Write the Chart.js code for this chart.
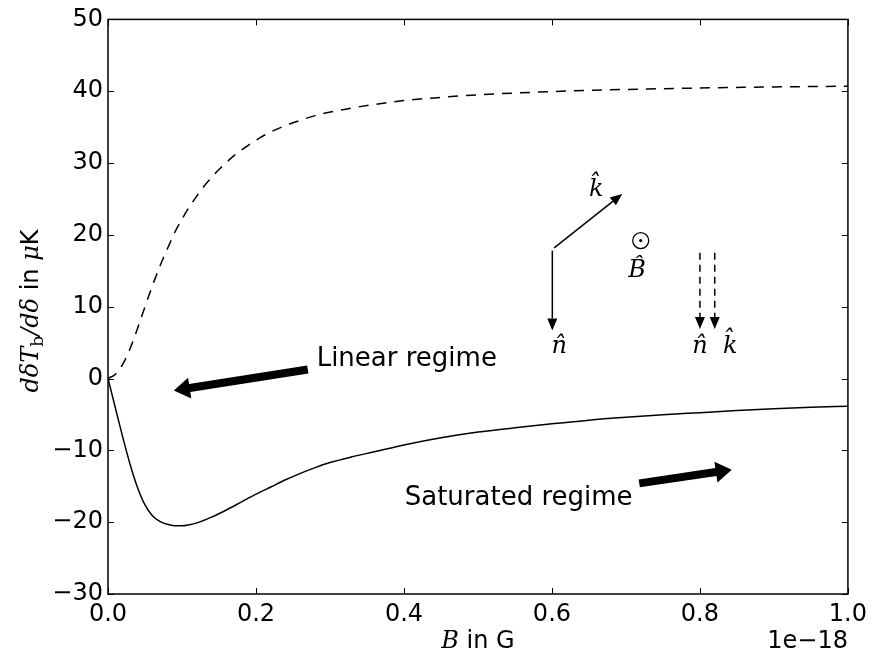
<!DOCTYPE html>
<html>
<head>
<meta charset="utf-8">
<script src="https://cdn.jsdelivr.net/npm/chart.js@4/dist/chart.umd.min.js"></script>
<style>
  html, body { margin: 0; padding: 0; background: #fff; }
  #wrap { width: 873px; height: 658px; }
</style>
</head>
<body>
<div id="wrap"><canvas id="c" width="873" height="658"></canvas></div>
<script>
// Magnetic field B, in units of 1e-18 G
const upperB = [0, 0.01, 0.02, 0.03, 0.04, 0.05, 0.06, 0.07, 0.08, 0.09, 0.10, 0.11, 0.12, 0.13, 0.14, 0.15, 0.17, 0.19, 0.21, 0.23, 0.25, 0.28, 0.31, 0.35, 0.40, 0.45, 0.50, 0.6, 0.7, 0.8, 0.9, 1.0];
// Dashed curve, d(dT_b)/d(delta) in microkelvin
const upperT = [0, 0.6, 2.0, 4.2, 7.0, 10.0, 12.9, 15.6, 18.0, 20.3, 22.2, 23.9, 25.4, 26.8, 28.0, 29.1, 31.0, 32.5, 33.8, 34.8, 35.6, 36.6, 37.3, 38.0, 38.7, 39.15, 39.5, 39.95, 40.25, 40.45, 40.6, 40.7];

const lowerB = [0, 0.01, 0.02, 0.03, 0.04, 0.05, 0.06, 0.07, 0.08, 0.09, 0.10, 0.11, 0.12, 0.14, 0.16, 0.18, 0.20, 0.22, 0.24, 0.26, 0.28, 0.30, 0.33, 0.36, 0.40, 0.45, 0.50, 0.55, 0.60, 0.65, 0.70, 0.75, 0.80, 0.85, 0.90, 0.95, 1.0];
// Solid curve, d(dT_b)/d(delta) in microkelvin
const lowerT = [0, -4.1, -8.2, -12.0, -15.2, -17.6, -19.1, -19.9, -20.3, -20.5, -20.5, -20.35, -20.1, -19.3, -18.3, -17.2, -16.1, -15.1, -14.1, -13.2, -12.4, -11.7, -10.9, -10.2, -9.25, -8.25, -7.45, -6.85, -6.3, -5.8, -5.4, -5.05, -4.75, -4.45, -4.2, -4.0, -3.85];

const xTicks = [0, 0.2, 0.4, 0.6, 0.8, 1.0];
const yTicks = [-30, -20, -10, 0, 10, 20, 30, 40, 50];
const xOffsetText = '1e\u221218';

// Text annotations with their arrows (data coordinates)
const regimeNotes = [
  { text: 'Linear regime', at: [0.282, 1.7], from: [0.27, 1.25], to: [0.089, -1.67] },
  { text: 'Saturated regime', at: [0.401, -17.6], from: [0.718, -14.6], to: [0.843, -12.7] }
];

// Geometry sketch: unit vectors n, k and B (data coordinates)
const sketchArrows = [
  { from: [0.6005, 17.8], to: [0.6005, 6.7], dashed: false },
  { from: [0.603, 18.2], to: [0.695, 25.7], dashed: false },
  { from: [0.80, 17.5], to: [0.80, 6.9], dashed: true },
  { from: [0.82, 17.5], to: [0.82, 6.9], dashed: true }
];
const sketchLabels = [
  { text: 'k\u0302', at: [0.66, 25.4] },
  { text: 'n\u0302', at: [0.61, 3.6] },
  { text: 'B\u0302', at: [0.715, 14.1] },
  { text: 'n\u0302', at: [0.80, 3.6] },
  { text: 'k\u0302', at: [0.841, 3.6] }
];
const dotSymbol = [0.72, 19.2];

const SANS = '"DejaVu Sans", sans-serif';
const SERIF = '"DejaVu Serif", serif';

function pts(xs, ys) { return xs.map((x, i) => ({ x: x, y: ys[i] })); }

function fmtY(v) { return v < 0 ? '\u2212' + Math.abs(v) : String(v); }

function fatArrow(ctx, x1, y1, x2, y2, bodyW, headL, headW) {
  const dx = x2 - x1, dy = y2 - y1;
  const len = Math.hypot(dx, dy);
  const ux = dx / len, uy = dy / len, nx = -uy, ny = ux;
  const bx = x2 - ux * headL, by = y2 - uy * headL;
  ctx.beginPath();
  ctx.moveTo(x1 + nx * bodyW / 2, y1 + ny * bodyW / 2);
  ctx.lineTo(bx + nx * bodyW / 2, by + ny * bodyW / 2);
  ctx.lineTo(bx + nx * headW / 2, by + ny * headW / 2);
  ctx.lineTo(x2, y2);
  ctx.lineTo(bx - nx * headW / 2, by - ny * headW / 2);
  ctx.lineTo(bx - nx * bodyW / 2, by - ny * bodyW / 2);
  ctx.lineTo(x1 - nx * bodyW / 2, y1 - ny * bodyW / 2);
  ctx.closePath();
  ctx.fill();
}

function thinArrow(ctx, x1, y1, x2, y2, dashed) {
  const dx = x2 - x1, dy = y2 - y1;
  const len = Math.hypot(dx, dy);
  const ux = dx / len, uy = dy / len, nx = -uy, ny = ux;
  const headL = 12, headW = 10;
  const bx = x2 - ux * headL, by = y2 - uy * headL;
  ctx.save();
  ctx.lineWidth = 1.5;
  ctx.setLineDash(dashed ? [7, 5] : []);
  ctx.beginPath();
  ctx.moveTo(x1, y1);
  ctx.lineTo(bx, by);
  ctx.stroke();
  ctx.restore();
  ctx.beginPath();
  ctx.moveTo(x2, y2);
  ctx.lineTo(bx + nx * headW / 2, by + ny * headW / 2);
  ctx.lineTo(bx - nx * headW / 2, by - ny * headW / 2);
  ctx.closePath();
  ctx.fill();
}

const framePlugin = {
  id: 'frameAndNotes',
  afterDatasetsDraw(chart) {
    const ctx = chart.ctx;
    const a = chart.chartArea;
    const xs = chart.scales.x, ys = chart.scales.y;
    const px = v => xs.getPixelForValue(v);
    const py = v => ys.getPixelForValue(v);
    ctx.save();
    ctx.strokeStyle = '#000';
    ctx.fillStyle = '#000';

    // axes box
    ctx.lineWidth = 1.5;
    ctx.strokeRect(a.left, a.top, a.right - a.left, a.bottom - a.top);

    // inward tick marks on all four sides
    ctx.lineWidth = 1;
    const tl = 6;
    ctx.beginPath();
    xTicks.forEach(v => {
      const x = Math.round(px(v)) + 0.5;
      ctx.moveTo(x, a.bottom); ctx.lineTo(x, a.bottom - tl);
      ctx.moveTo(x, a.top); ctx.lineTo(x, a.top + tl);
    });
    yTicks.forEach(v => {
      const y = Math.round(py(v)) + 0.5;
      ctx.moveTo(a.left, y); ctx.lineTo(a.left + tl, y);
      ctx.moveTo(a.right, y); ctx.lineTo(a.right - tl, y);
    });
    ctx.stroke();

    // regime notes
    ctx.font = '26px ' + SANS;
    ctx.textBaseline = 'alphabetic';
    ctx.textAlign = 'left';
    regimeNotes.forEach(n => {
      ctx.fillText(n.text, px(n.at[0]), py(n.at[1]));
      fatArrow(ctx, px(n.from[0]), py(n.from[1]), px(n.to[0]), py(n.to[1]), 8, 16, 21);
    });

    // geometry sketch
    sketchArrows.forEach(s => thinArrow(ctx, px(s.from[0]), py(s.from[1]), px(s.to[0]), py(s.to[1]), s.dashed));
    ctx.font = 'italic 24px ' + SERIF;
    ctx.textAlign = 'center';
    sketchLabels.forEach(l => ctx.fillText(l.text, px(l.at[0]), py(l.at[1])));
    const cx = px(dotSymbol[0]), cy = py(dotSymbol[1]);
    ctx.lineWidth = 1.3;
    ctx.beginPath(); ctx.arc(cx, cy, 8, 0, Math.PI * 2); ctx.stroke();
    ctx.beginPath(); ctx.arc(cx, cy, 1.6, 0, Math.PI * 2); ctx.fill();

    // x-axis title and offset text
    const mid = (a.left + a.right) / 2;
    const tb = 648;
    ctx.textAlign = 'left';
    ctx.font = 'italic 24px ' + SERIF;
    const wB = ctx.measureText('B').width;
    ctx.font = '24px ' + SANS;
    const wRest = ctx.measureText(' in G').width;
    let x0 = mid - (wB + wRest) / 2;
    ctx.font = 'italic 24px ' + SERIF;
    ctx.fillText('B', x0, tb);
    ctx.font = '24px ' + SANS;
    ctx.fillText(' in G', x0 + wB, tb);
    ctx.textAlign = 'right';
    ctx.fillText(xOffsetText, a.right, tb);

    // y-axis title, rotated
    const parts = [
      { t: 'd\u03b4T', f: 'italic 24px ' + SERIF, dy: 0 },
      { t: 'b', f: '17px ' + SERIF, dy: 5 },
      { t: '/d\u03b4', f: 'italic 24px ' + SERIF, dy: 0 },
      { t: ' in ', f: '24px ' + SANS, dy: 0 },
      { t: '\u03bc', f: 'italic 24px ' + SERIF, dy: 0 },
      { t: 'K', f: '24px ' + SANS, dy: 0 }
    ];
    let total = 0;
    parts.forEach(p => { ctx.font = p.f; p.w = ctx.measureText(p.t).width; total += p.w; });
    ctx.translate(38, 311);
    ctx.rotate(-Math.PI / 2);
    ctx.textAlign = 'left';
    let cur = -total / 2;
    parts.forEach(p => { ctx.font = p.f; ctx.fillText(p.t, cur, p.dy); cur += p.w; });
    ctx.restore();
  }
};

new Chart(document.getElementById('c'), {
  type: 'line',
  data: {
    datasets: [
      {
        data: pts(upperB, upperT),
        borderColor: '#000', borderWidth: 1.5, borderDash: [10, 8],
        pointRadius: 0, fill: false, cubicInterpolationMode: 'monotone'
      },
      {
        data: pts(lowerB, lowerT),
        borderColor: '#000', borderWidth: 1.5,
        pointRadius: 0, fill: false, cubicInterpolationMode: 'monotone'
      }
    ]
  },
  options: {
    responsive: false,
    animation: false,
    devicePixelRatio: 1,
    layout: { padding: { left: 0, right: 24, top: 18, bottom: 0 } },
    plugins: { legend: { display: false }, tooltip: { enabled: false } },
    scales: {
      x: {
        type: 'linear', min: 0, max: 1,
        afterFit: s => { s.height = 64; },
        afterBuildTicks: s => { s.ticks = xTicks.map(v => ({ value: v })); },
        grid: { display: false, drawTicks: false }, border: { display: false },
        ticks: {
          color: '#000', font: { family: SANS, size: 24 }, padding: 6,
          maxRotation: 0, autoSkip: false,
          callback: v => v.toFixed(1)
        }
      },
      y: {
        type: 'linear', min: -30, max: 50,
        afterFit: s => { s.width = 108; },
        afterBuildTicks: s => { s.ticks = yTicks.map(v => ({ value: v })); },
        grid: { display: false, drawTicks: false }, border: { display: false },
        ticks: {
          color: '#000', font: { family: SANS, size: 24 }, padding: 5,
          autoSkip: false, callback: v => fmtY(v)
        }
      }
    }
  },
  plugins: [framePlugin]
});
</script>
</body>
</html>
